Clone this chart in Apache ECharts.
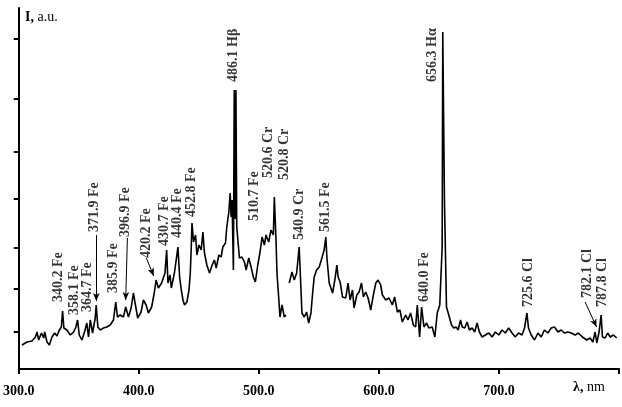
<!DOCTYPE html>
<head>
    <meta charset="utf-8">
    <title>Spectrum</title>
    <script src="https://cdn.jsdelivr.net/npm/echarts@6/dist/echarts.min.js"></script>
    <style>
        html, body { margin: 0; padding: 0; background: #fff; }
    </style>
</head>
<body>
    <div id="main" style="width: 622px;height:407px"></div>
    <script type="text/javascript">
        // wavelength, nm
        var wavelength = [302.7, 306.9, 311.0, 313.9, 315.2, 316.6, 318.9, 320.8, 321.6, 323.5,
            325.5, 327.7, 329.9, 331.8, 333.8, 335.5, 336.5, 337.6, 340.1, 342.9,
            345.7, 347.6, 349.0, 350.4, 352.6, 354.8, 356.7, 358.1, 359.6, 361.5,
            363.7, 364.5, 365.9, 367.9, 370.6, 373.3, 376.2, 378.9, 380.8, 382.2,
            384.5, 387.2, 389.1, 391.4, 393.6, 395.5, 396.9, 399.1, 401.9, 403.8,
            406.1, 408.0, 410.7, 413.0, 414.4, 416.3, 419.0, 421.8, 423.2, 424.3,
            426.0, 427.1, 429.8,
            431.2, 432.6, 434.0, 435.4, 436.8, 438.1, 440.1, 441.8, 442.9, 443.7,
            444.3, 445.6, 447.3, 448.4, 450.1, 452.0, 453.4, 454.7, 456.7, 458.9,
            461.1, 463.0, 464.5, 466.7, 468.6, 470.0, 472.2, 473.3, 475.0, 476.1,
            476.9, 477.7, 478.8, 479.5, 480.2, 480.9, 481.6, 483.8, 485.8, 488.0,
            489.4, 491.6, 493.5, 495.4, 497.1, 499.1, 501.0, 502.7, 504.6, 506.0,
            508.2, 510.1, 512.1, 512.9, 514.3, 515.1, 516.5, 517.6, 519.3, 521.2,
            522.6, 524.5, 525.3, 527.6, 529.5, 531.5, 533.6, 535.1, 535.9, 537.8,
            539.8, 541.5, 543.4, 544.8, 546.1, 548.1, 550.3, 552.5, 554.4,
            555.8, 556.7, 558.6, 561.4, 563.3, 565.0, 566.0, 567.7,
            569.7, 572.4, 574.3, 576.0, 578.0, 579.3, 581.6, 583.5, 585.5, 587.1,
            589.0, 591.0, 593.2, 595.4, 597.4, 599.3, 601.5, 602.9, 605.7, 608.4,
            611.2, 613.1, 615.4, 617.5, 619.5, 622.3, 624.2, 626.4, 628.7, 630.6,
            632.0, 633.9, 635.6, 637.5, 639.7, 641.6, 644.4, 646.6, 648.6, 650.7,
            652.7, 653.2, 654.0, 654.6, 656.3, 658.2,
            660.5, 662.4, 664.4, 666.0, 668.0, 669.4, 671.5, 673.5, 675.4, 677.7,
            679.8, 681.8, 683.7, 686.0, 688.7, 691.5, 694.3, 697.0, 699.8, 702.6,
            705.3, 708.1, 710.9, 713.6, 716.4, 719.2, 721.3, 723.3, 724.6, 726.9,
            729.6, 732.5, 735.2, 737.9, 740.8, 743.5, 746.3, 749.1, 751.8, 754.6,
            757.4, 760.2, 763.5, 766.2, 769.5, 773.2, 775.9, 778.2, 780.1, 781.5,
            783.4, 785.1, 786.2, 788.4, 790.6, 792.6, 795.3, 798.1];
        // intensity, a.u. ('-' = gap in the trace)
        var intensity = [24, 27, 28, 32, 37, 29, 36, 31, 37, 27,
            24, 32, 36, 33, 39, 42, 58, 41, 39, 34,
            37, 42, 49, 34, 29, 37, 46, 32, 49, 36,
            51, 64, 42, 39, 41, 42, 44, 49, 67, 52,
            54, 52, 62, 52, 61, 76, 66, 51, 57, 69,
            64, 56, 62, 77, 89, 81, 86, 96, 119, 86,
            94, 81, 97,
            99, 122, 92, 79, 69, 64, 67, 79, 96, 122,
            146, 127, 134, 114, 124, 119, 137, 116, 104, 96,
            104, 109, 101, 114, 112, 122, 126, 142, 157, 176,
            152, 169, 99, 279, 150, 279, 142, 111, 112, 107,
            99, 111, 102, 92, 87, 104, 117, 132, 124, 134,
            127, 139, 134, 172, 129, 96, 72, 52, 64, 52,
            54, '-', 86, 97, 89, 96, 122, 79, 56, 52,
            57, 46, 56, 76, 92, 99, 102, 111, 119,
            132, 111, 86, 76, 89, 104, 92, 87,
            72, 71, 86, 69, 79, 61, 74, 77, 86, 72,
            77, 71, 59, 74, 86, 89, 84, 74, 69, 71,
            64, 72, 57, 59, 47, 54, 49, 56, 44, 42,
            64, 32, 62, 42, 46, 41, 42, 32, 56, 64,
            122, 337, 337, 169, 62, 54,
            44, 41, 42, 39, 49, 42, 41, 47, 39, 41,
            37, 46, 37, 32, 34, 36, 32, 37, 34, 39,
            36, 41, 36, 32, 36, 34, 41, 56, 41, 34,
            29, 36, 32, 39, 36, 41, 42, 37, 39, 36,
            37, 36, 34, 36, 32, 29, 31, 27, 37, 26,
            37, 54, 32, 31, 36, 32, 34, 31];
        var yTicks = [37, 80, 121, 170, 217, 270, 330];

        // line labels: text, wavelength at text foot, intensity at text foot
        var peakNames = ['340.2 Fe', '358.1 Fe', '364.7 Fe', '371.9 Fe', '385.9 Fe', '396.9 Fe',
            '420.2 Fe', '430.7 Fe', '440.4 Fe', '452.8 Fe', '486.1 Hβ', '510.7 Fe',
            '520.6 Cr', '520.8 Cr', '540.9 Cr', '561.5 Fe', '640.0 Fe', '656.3 Hα',
            '725.6 Cl', '782.1 Cl', '787.8 Cl'];
        var peakX = [333.2, 346.5, 357.3, 363.1, 378.9, 388.9,
            406.3, 421.3, 432.1, 443.7, 478.6, 496.0,
            507.7, 520.9, 533.4, 555.8, 638.1, 644.7,
            724.4, 773.4, 785.9];
        var peakY = [67, 54, 57, 137, 76, 132,
            111, 123, 131, 152, 287, 148,
            191, 189, 129, 137, 67, 287,
            62, 71, 62];

        // arrows from label to peak
        var arrowFrom = [[364.6, 134], [390.5, 131], [406.3, 111], [771.8, 67]];
        var arrowTo = [[364.6, 68], [389.1, 69], [412.4, 93], [781.3, 42]];

        var serif = '"Liberation Serif", "DejaVu Serif", serif';

        var lineData = [];
        for (var i = 0; i < wavelength.length; i++) {
            lineData.push([wavelength[i], intensity[i]]);
        }
        var labelData = [];
        for (var j = 0; j < peakNames.length; j++) {
            labelData.push([peakX[j], peakY[j], peakNames[j]]);
        }
        var arrows = [];
        for (var k = 0; k < arrowFrom.length; k++) {
            arrows.push([
                { coord: arrowFrom[k], symbol: 'none' },
                { coord: arrowTo[k], symbol: 'arrow', symbolSize: [5, 8] }
            ]);
        }

        var myChart = echarts.init(document.getElementById('main'));
        var option = {
            animation: false,
            backgroundColor: '#fff',
            grid: { left: 17, right: 3, top: 8, bottom: 38 },
            xAxis: {
                type: 'value',
                min: 300,
                max: 800,
                interval: 100,
                axisLine: { lineStyle: { color: '#000', width: 2 } },
                axisTick: { length: 5, lineStyle: { color: '#000', width: 2 } },
                axisLabel: {
                    color: '#000',
                    fontFamily: serif,
                    fontWeight: 'bold',
                    fontSize: 14,
                    margin: 15,
                    formatter: function (v) { return v === 800 ? '' : v.toFixed(1); }
                },
                splitLine: { show: false }
            },
            yAxis: {
                type: 'value',
                min: 0,
                max: 361,
                axisLine: { show: true, lineStyle: { color: '#000', width: 2 } },
                axisTick: { show: true, length: 5, customValues: yTicks, lineStyle: { color: '#000', width: 2 } },
                axisLabel: { show: false },
                splitLine: { show: false }
            },
            graphic: [
                {
                    type: 'text', left: 25, top: 10,
                    style: {
                        text: '{b|I,} a.u.',
                        fill: '#000',
                        font: '14px ' + serif,
                        rich: { b: { fontWeight: 'bold', fontSize: 14, fontFamily: serif } }
                    }
                },
                {
                    type: 'text', left: 573, top: 380,
                    style: {
                        text: '{b|λ,} nm',
                        fill: '#000',
                        font: '14px ' + serif,
                        rich: { b: { fontWeight: 'bold', fontSize: 14, fontFamily: serif } }
                    }
                }
            ],
            series: [
                {
                    type: 'line',
                    data: lineData,
                    symbol: 'none',
                    connectNulls: false,
                    lineStyle: { color: '#000', width: 1.6 },
                    markLine: {
                        silent: true,
                        label: { show: false },
                        lineStyle: { color: '#000', width: 1, type: 'solid' },
                        data: arrows
                    }
                },
                {
                    type: 'scatter',
                    data: labelData,
                    symbolSize: 1,
                    itemStyle: { color: 'rgba(0,0,0,0)' },
                    label: {
                        show: true,
                        position: 'inside',
                        rotate: 90,
                        align: 'left',
                        verticalAlign: 'middle',
                        color: '#000',
                        fontFamily: serif,
                        fontWeight: 'bold',
                        fontSize: 14,
                        formatter: function (p) { return p.data[2]; }
                    }
                }
            ]
        };
        myChart.setOption(option);
    </script>
</body>
